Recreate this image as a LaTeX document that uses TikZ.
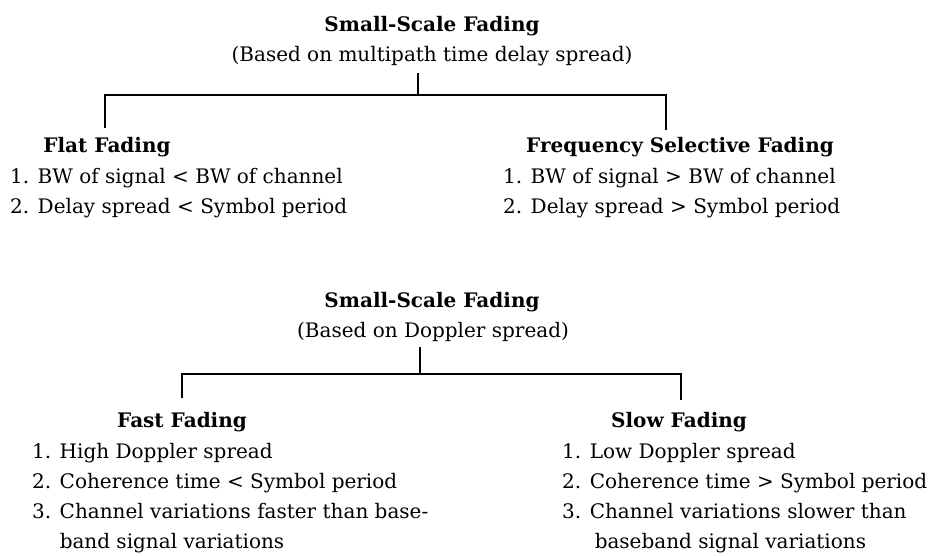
\documentclass[tikz,border=0pt]{standalone}
\usepackage{fontspec}
\setmainfont{DejaVu Serif}
\usetikzlibrary{positioning}

\tikzset{
    heading/.style={font=\bfseries\fontsize{20}{30}\selectfont, inner sep=0pt, anchor=base},
    subhead/.style={font=\fontsize{20}{30}\selectfont, inner sep=0pt, anchor=base},
    itemlist/.style={font=\fontsize{20}{30}\selectfont, inner sep=0pt, anchor=base west},
    branch/.style={line width=1.5pt}
}

\begin{document}
\begin{tikzpicture}[x=1pt, y=-1pt]
    \useasboundingbox (0,0) rectangle (941,556);

    % tree by multipath delay spread
    \node[heading] (delaytop) at (432,32) {Small-Scale Fading};
    \node[subhead] (delaysub) at (432,62) {(Based on multipath time delay spread)};
    \node[heading] (flat) at (107,153) {Flat Fading};
    \node[heading] (freqsel) at (680,153) {Frequency Selective Fading};
    \node[itemlist] (flatlist) at (10,183) {\begin{tabular}[t]{@{}l@{ }l@{}}
        1. & BW of signal < BW of channel\\
        2. & Delay spread < Symbol period
    \end{tabular}};
    \node[itemlist] (freqlist) at (503,183) {\begin{tabular}[t]{@{}l@{ }l@{}}
        1. & BW of signal > BW of channel\\
        2. & Delay spread > Symbol period
    \end{tabular}};
    \coordinate (delayhub) at (418,95);
    \coordinate (flatleg) at (105,128);
    \coordinate (freqleg) at (666,130);
    \draw[branch] (delayhub |- delaysub.south) ++(0,6) -- (delayhub);
    \draw[branch] (flatleg) |- (delayhub) -| (freqleg);

    % tree by Doppler spread
    \node[heading] (doptop) at (432,307) {Small-Scale Fading};
    \node[subhead] (dopsub) at (433,337) {(Based on Doppler spread)};
    \node[heading] (fast) at (182,427) {Fast Fading};
    \node[heading] (slow) at (679,427) {Slow Fading};
    \node[itemlist] (fastlist) at (32,458) {\begin{tabular}[t]{@{}l@{ }l@{}}
        1. & High Doppler spread\\
        2. & Coherence time < Symbol period\\
        3. & Channel variations faster than base-\\
           & band signal variations
    \end{tabular}};
    \node[itemlist] (slowlist) at (562,458) {\begin{tabular}[t]{@{}l@{ }l@{}}
        1. & Low Doppler spread\\
        2. & Coherence time > Symbol period\\
        3. & Channel variations slower than\\
           & \hspace{5pt}baseband signal variations
    \end{tabular}};
    \coordinate (dophub) at (420,374);
    \coordinate (fastleg) at (182,398);
    \coordinate (slowleg) at (681,400);
    \draw[branch] (dophub |- dopsub.south) ++(0,6) -- (dophub);
    \draw[branch] (fastleg) |- (dophub) -| (slowleg);
\end{tikzpicture}
\end{document}
